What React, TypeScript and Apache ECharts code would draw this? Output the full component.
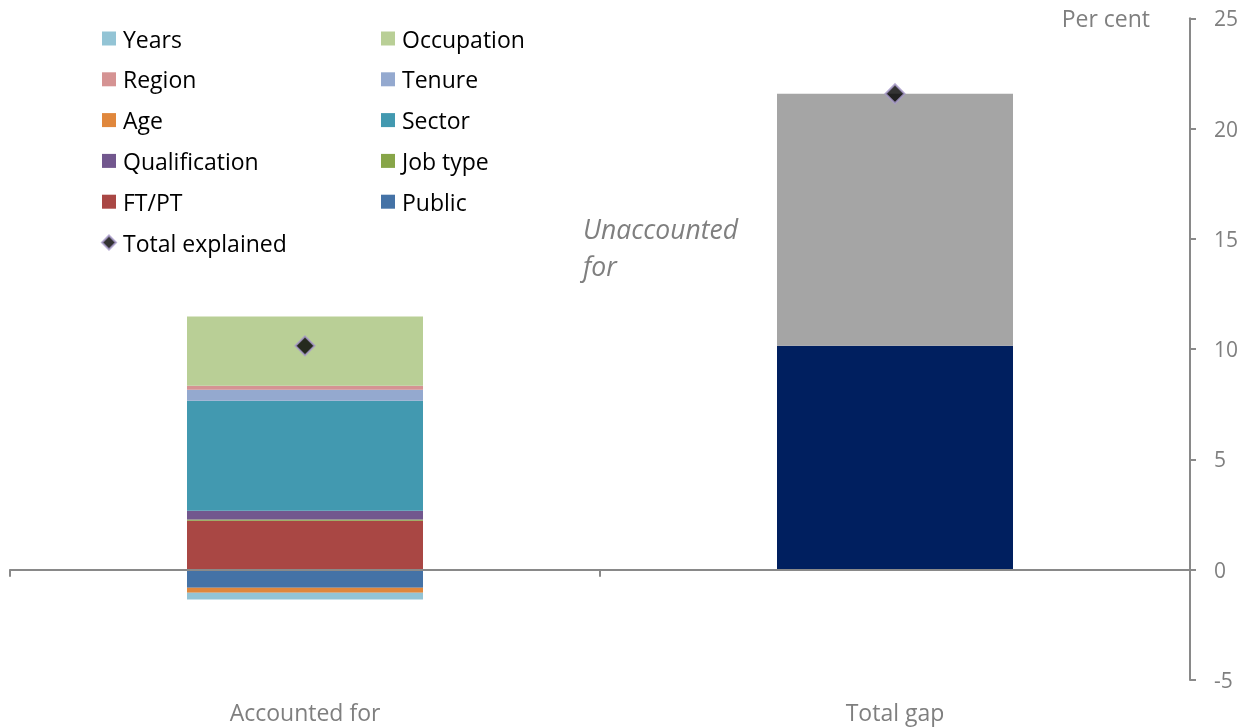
import React, { useEffect, useRef } from "react";
import * as echarts from "echarts";

const categories = ["Accounted for", "Total gap"];
const yTickLabels = ["-5", "0", "5", "10", "15", "20", "25"];

// Accounted-for components (per cent)
const publicVals = [-0.82, null];
const ageVals = [-0.22, null];
const yearsVals = [-0.31, null];
const ftptVals = [2.22, null];
const jobTypeVals = [0.06, null];
const qualificationVals = [0.39, null];
const sectorVals = [4.99, null];
const tenureVals = [0.5, null];
const regionVals = [0.18, null];
const occupationVals = [3.14, null];

// Total gap
const explainedVals = [null, 10.15];
const unaccountedVals = [null, 11.43];

// Markers
const totalExplained = [10.15, 21.58];

const FONT = "'Open Sans', sans-serif";
const GREY_TEXT = "#7f7f7f";
const AXIS_GREY = "#898989";

const colors: Record<string, string> = {
  Years: "#93c4d5",
  Occupation: "#b9cf96",
  Region: "#d59393",
  Tenure: "#94a9cf",
  Age: "#e0873c",
  Sector: "#4299b0",
  Qualification: "#72578e",
  "Job type": "#87a548",
  "FT/PT": "#a94744",
  Public: "#4472a6",
};

export default function App() {
  const ref = useRef<HTMLDivElement>(null);

  useEffect(() => {
    if (!ref.current) return;
    const chart = echarts.init(ref.current, undefined, { renderer: "svg" });

    const bar = (name: string, data: (number | null)[], color: string) => ({
      name,
      type: "bar",
      stack: "total",
      data,
      barWidth: "40%",
      xAxisIndex: 0,
      itemStyle: { color },
      emphasis: { disabled: true },
    });

    const legendCommon = {
      orient: "vertical",
      itemWidth: 14,
      itemHeight: 14,
      itemGap: 17.8,
      icon: "rect",
      selectedMode: false,
      textStyle: {
        fontFamily: FONT,
        fontSize: 23,
        lineHeight: 23,
        color: "#000",
        padding: [0, 0, 0, 2],
      },
    };

    chart.setOption({
      animation: false,
      grid: { left: 10, right: 62, top: 18.3, bottom: 47, containLabel: false },
      legend: [
        {
          ...legendCommon,
          left: 96,
          top: 22,
          data: [
            { name: "Years", icon: "rect" },
            { name: "Region", icon: "rect" },
            { name: "Age", icon: "rect" },
            { name: "Qualification", icon: "rect" },
            { name: "FT/PT", icon: "rect" },
            { name: "Total explained", icon: "diamond" },
          ],
        },
        {
          ...legendCommon,
          left: 376,
          top: 22,
          data: [
            { name: "Occupation", icon: "rect" },
            { name: "Tenure", icon: "rect" },
            { name: "Sector", icon: "rect" },
            { name: "Job type", icon: "rect" },
            { name: "Public", icon: "rect" },
          ],
        },
      ],
      xAxis: [
        {
          type: "category",
          data: categories,
          position: "bottom",
          axisLine: { show: false, onZero: false },
          axisTick: { show: false },
          axisLabel: { fontFamily: FONT, fontSize: 23, color: GREY_TEXT, margin: 20 },
        },
        {
          type: "category",
          data: categories,
          position: "bottom",
          z: 5,
          axisLine: { show: true, onZero: true, lineStyle: { color: AXIS_GREY, width: 2 } },
          axisTick: { show: true, length: 7, lineStyle: { color: AXIS_GREY, width: 2 } },
          axisLabel: { show: false },
        },
      ],
      yAxis: {
        type: "value",
        position: "right",
        min: -5,
        max: 25,
        interval: 5,
        splitLine: { show: false },
        axisLine: { show: true, lineStyle: { color: AXIS_GREY, width: 2 } },
        axisTick: { show: true, length: 6, lineStyle: { color: AXIS_GREY, width: 2 } },
        axisLabel: {
          fontFamily: FONT,
          fontSize: 21,
          color: GREY_TEXT,
          margin: 24,
          formatter: (v: number) => {
            const s = String(v);
            return yTickLabels.includes(s) ? s : "";
          },
        },
      },
      series: [
        bar("Public", publicVals, colors.Public),
        bar("FT/PT", ftptVals, colors["FT/PT"]),
        bar("Age", ageVals, colors.Age),
        bar("Job type", jobTypeVals, colors["Job type"]),
        bar("Qualification", qualificationVals, colors.Qualification),
        bar("Sector", sectorVals, colors.Sector),
        bar("Years", yearsVals, colors.Years),
        bar("Tenure", tenureVals, colors.Tenure),
        bar("Region", regionVals, colors.Region),
        bar("Occupation", occupationVals, colors.Occupation),
        bar("Explained", explainedVals, "#001f5f"),
        bar("Unaccounted", unaccountedVals, "#a5a5a5"),
        {
          name: "Total explained",
          type: "scatter",
          xAxisIndex: 0,
          data: totalExplained,
          symbol: "diamond",
          symbolSize: 19,
          itemStyle: { color: "#000", borderColor: "#a99bcb", borderWidth: 2 },
          emphasis: { disabled: true },
          z: 6,
        },
      ],
      graphic: [
        {
          type: "text",
          right: 102,
          top: 6,
          style: {
            text: "Per cent",
            fontFamily: FONT,
            fontSize: 23,
            fill: GREY_TEXT,
          },
        },
        {
          type: "text",
          left: 583,
          top: 210,
          style: {
            text: "Unaccounted\nfor",
            fontFamily: FONT,
            fontSize: 26.5,
            fontStyle: "italic",
            lineHeight: 37,
            fill: GREY_TEXT,
          },
        },
      ],
    });

    return () => chart.dispose();
  }, []);

  return (
    <div
      ref={ref}
      style={{ position: "fixed", left: 0, top: 0, width: 1252, height: 727 }}
    />
  );
}
